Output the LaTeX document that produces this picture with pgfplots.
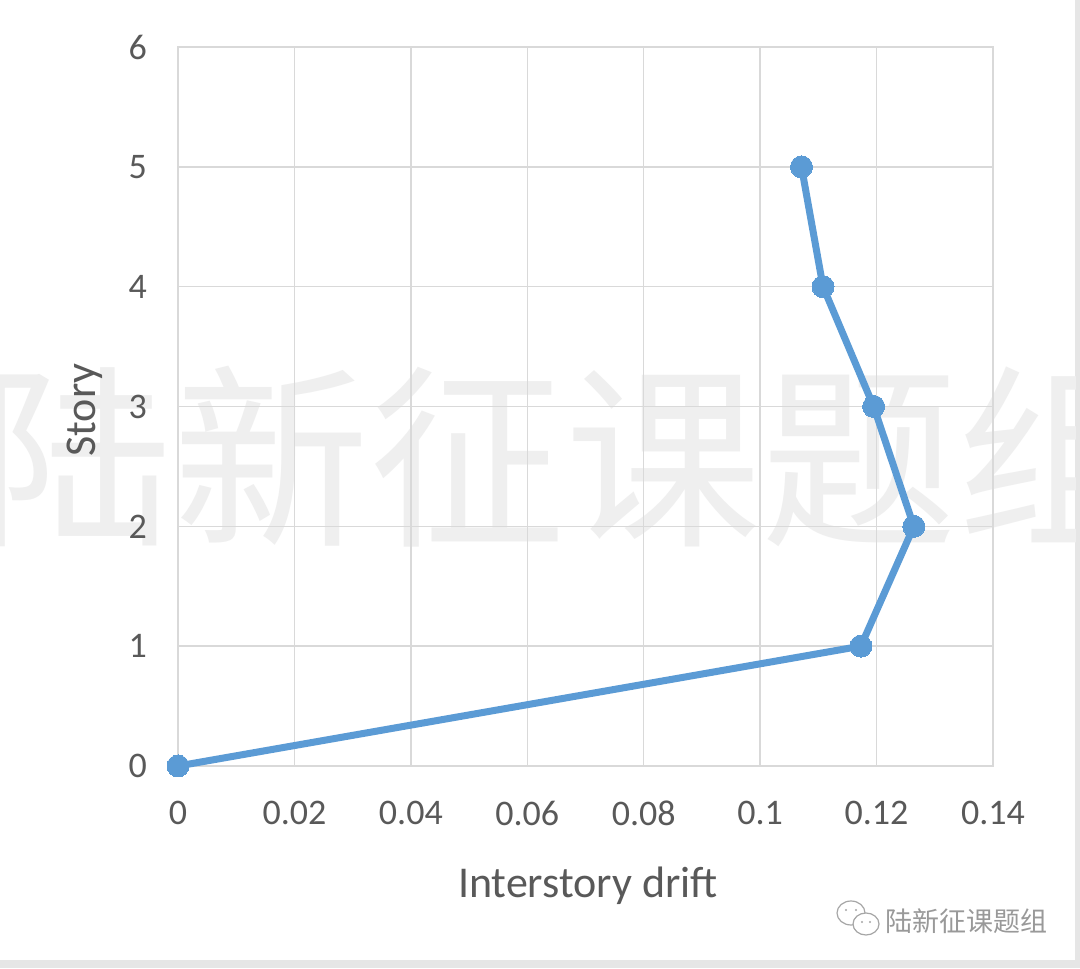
\documentclass[border=0pt]{standalone}
\usepackage{pgfplots}
\pgfplotsset{compat=1.18}
\usepackage{fontspec}
\setmainfont{Carlito}
\newfontfamily\cjk{Noto Sans CJK SC}

\definecolor{excelblue}{HTML}{5B9BD5}
\definecolor{gridgray}{HTML}{D9D9D9}
\definecolor{labelgray}{HTML}{595959}
\definecolor{markgray}{HTML}{EFEFEF}
\definecolor{framegray}{HTML}{E6E6E6}

\begin{document}
\begin{tikzpicture}
  % page and shadow frame (1px = 0.5pt)
  \fill[framegray] (0pt,0pt) rectangle (540pt,484pt);
  \fill[white] (0pt,4pt) rectangle (537.5pt,484pt);

  % big watermark
  \begin{scope}
    \clip (0pt,4pt) rectangle (537.5pt,484pt);
    \node[text=markgray, inner sep=0, anchor=center] at (282.5pt,255.5pt)
      {\cjk\fontsize{98}{98}\selectfont 陆新征课题组};
  \end{scope}

  \begin{axis}[
    at={(89pt,101pt)}, anchor=south west,
    scale only axis,
    width=407.5pt, height=359.5pt,
    xmin=0, xmax=0.14, ymin=0, ymax=6,
    xtick={0,0.02,0.04,0.06,0.08,0.1,0.12,0.14},
    xticklabels={0,0.02,0.04,0.06,0.08,0.1,0.12,0.14},
    ytick={0,1,2,3,4,5,6},
    scaled x ticks=false,
    grid=major,
    grid style={gridgray, line width=0.75pt},
    axis line style={gridgray, line width=0.75pt},
    major tick length=0pt,
    tick label style={font=\fontsize{18}{18}\selectfont, text=labelgray},
    /pgf/number format/assume math mode=true,
    xticklabel style={yshift=-14pt},
    yticklabel style={xshift=-12pt},
    xlabel={Interstory drift},
    ylabel={Story},
    every axis x label/.style={at={(axis description cs:0.503,-0.167)}, anchor=center,
      font=\fontsize{22}{22}\selectfont, text=labelgray},
    every axis y label/.style={at={(axis description cs:-0.114,0.495)}, anchor=center, rotate=90,
      font=\fontsize{22}{22}\selectfont, text=labelgray},
    clip=false,
  ]
    \addplot[excelblue, line width=3.5pt, mark=*, mark size=5.5pt,
      mark options={fill=excelblue, draw=excelblue, line width=0pt}] coordinates {
      (0,      0)
      (0.1173, 1)
      (0.1264, 2)
      (0.1195, 3)
      (0.1108, 4)
      (0.1071, 5)
    };
  \end{axis}

  % WeChat-style badge at the bottom right
  \begin{scope}[gray!70, line width=0.6pt]
    \draw (425.5pt,27.5pt) ellipse (7pt and 6pt);
    \fill[white] (433pt,22pt) ellipse (6.5pt and 5.5pt);
    \draw (433pt,22pt) ellipse (6.5pt and 5.5pt);
    \fill (431pt,23pt) circle (0.6pt) (435pt,23pt) circle (0.6pt);
    \fill (423pt,29pt) circle (0.6pt) (428pt,29pt) circle (0.6pt);
  \end{scope}
  \node[text=gray!80, inner sep=0, anchor=center] at (483pt,23.5pt)
    {\cjk\fontsize{13.5}{13.5}\selectfont 陆新征课题组};
\end{tikzpicture}
\end{document}
